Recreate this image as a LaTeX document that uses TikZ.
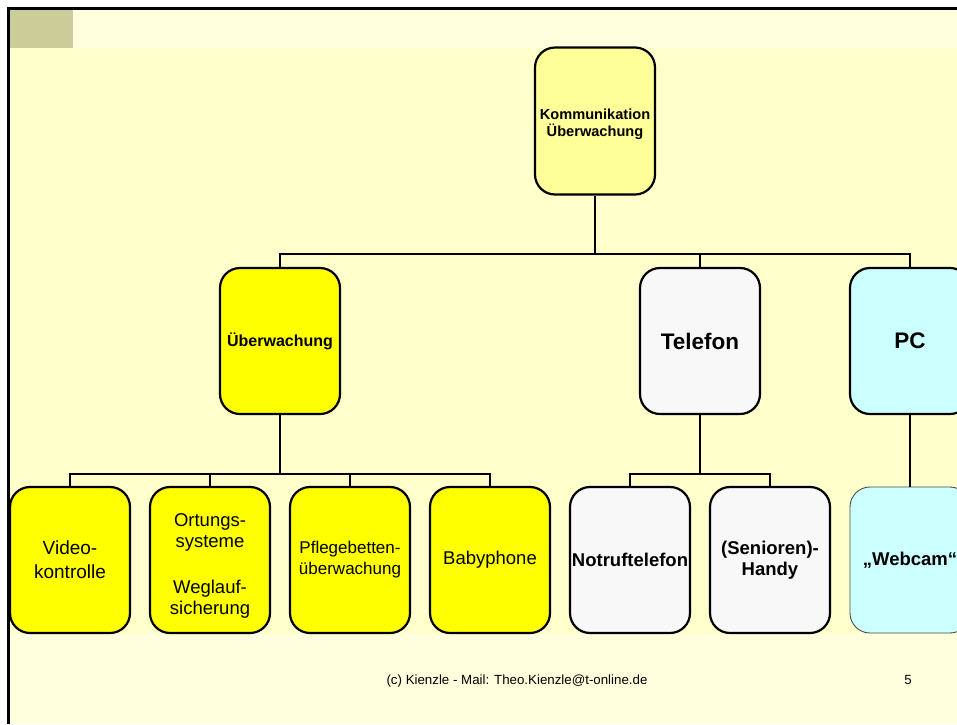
\documentclass[tikz,border=0pt]{standalone}
\usepackage{fontspec}
\setmainfont{Liberation Sans}
\definecolor{slidebg}{HTML}{FFFFDD}
\definecolor{chartbg}{HTML}{FFFFCC}
\definecolor{olivesq}{HTML}{CCCC99}
\definecolor{paleyel}{HTML}{FFFF99}
\definecolor{yel}{HTML}{FFFF00}
\definecolor{greybox}{HTML}{F8F8F8}
\definecolor{cyanbox}{HTML}{CCFFFF}
\tikzset{
  box/.style={draw=black, line width=2.2pt, rounded corners=20pt,
    minimum width=120pt, minimum height=146pt, inner sep=1pt, align=center, text=black},
  conn/.style={draw=black, line width=2.5pt},
  normtxt/.style={font=\fontsize{18.5}{21}\selectfont},
  boldtxt/.style={font=\fontsize{18.5}{20.5}\selectfont\bfseries},
}
\begin{document}
\begin{tikzpicture}[x=1pt,y=-1pt]
\useasboundingbox (0,0) rectangle (957,724);
\clip (0,0) rectangle (957,724);
\fill[white] (0,0) rectangle (957,724);
\fill[slidebg] (9,9) rectangle (957,724);
\fill[chartbg] (9,48) rectangle (957,634);
\fill[olivesq] (9,9) rectangle (73,48);
\draw[line width=2.2pt] (8.5,724) -- (8.5,8.5) -- (957,8.5);

% top
\node[box, fill=paleyel, minimum height=147pt, font=\fontsize{14.6}{17}\selectfont\bfseries] (top) at (595,121) {\rule{0pt}{18pt}Kommunikation\\Überwachung};
% level 2
\node[box, fill=yel, font=\fontsize{16}{18}\selectfont\bfseries] (ueb) at (280,341) {Überwachung};
\node[box, fill=greybox, font=\fontsize{22.5}{25}\selectfont\bfseries] (tel) at (700,341) {Telefon};
\node[box, fill=cyanbox, font=\fontsize{22.5}{25}\selectfont\bfseries] (pc) at (910,341) {PC};
% level 3
\node[box, fill=yel, font=\fontsize{19}{24}\selectfont] (c1) at (70,560) {Video-\\kontrolle};
\node[box, fill=yel, normtxt] (c2) at (210,560) {\rule{0pt}{25pt}Ortungs-\\systeme\\[25pt]Weglauf-\\sicherung};
\node[box, fill=yel, font=\fontsize{17}{21}\selectfont] (c3) at (350,560) {Pflegebetten-\\überwachung};
\node[box, fill=yel, normtxt] (c4) at (490,560) {Babyphone};
\node[box, fill=greybox, boldtxt] (n1) at (630,560) {Notruftelefon};
\node[box, fill=greybox, boldtxt] (n2) at (770,560) {(Senioren)-\\Handy};
\node[box, fill=cyanbox, boldtxt, draw=black!70, line width=0.9pt] (w) at (910,560) {„Webcam“};

% connectors level 1
\coordinate (j1) at (595,254);
\draw[conn] (top.south) -- (j1);
\draw[conn] (ueb.north) -- (ueb.north |- j1) -- (pc.north |- j1) -- (pc.north);
\draw[conn] (tel.north) -- (tel.north |- j1);
% connectors level 2
\coordinate (j2) at (280,474);
\draw[conn] (ueb.south) -- (j2);
\draw[conn] (c1.north) -- (c1.north |- j2) -- (c4.north |- j2) -- (c4.north);
\draw[conn] (c2.north) -- (c2.north |- j2);
\draw[conn] (c3.north) -- (c3.north |- j2);
\coordinate (j3) at (700,474);
\draw[conn] (tel.south) -- (j3);
\draw[conn] (n1.north) -- (n1.north |- j3) -- (n2.north |- j3) -- (n2.north);
\draw[conn] (pc.south) -- (w.north);

% footer
\node[anchor=base, inner sep=0pt, font=\fontsize{13.3}{15}\selectfont] (foot) at (517,684) {(c) Kienzle - Mail: Theo.Kienzle@t-online.de};
\node[anchor=base, inner sep=0pt, font=\fontsize{13.3}{15}\selectfont] (pg) at (908,684) {5};
\end{tikzpicture}
\end{document}
